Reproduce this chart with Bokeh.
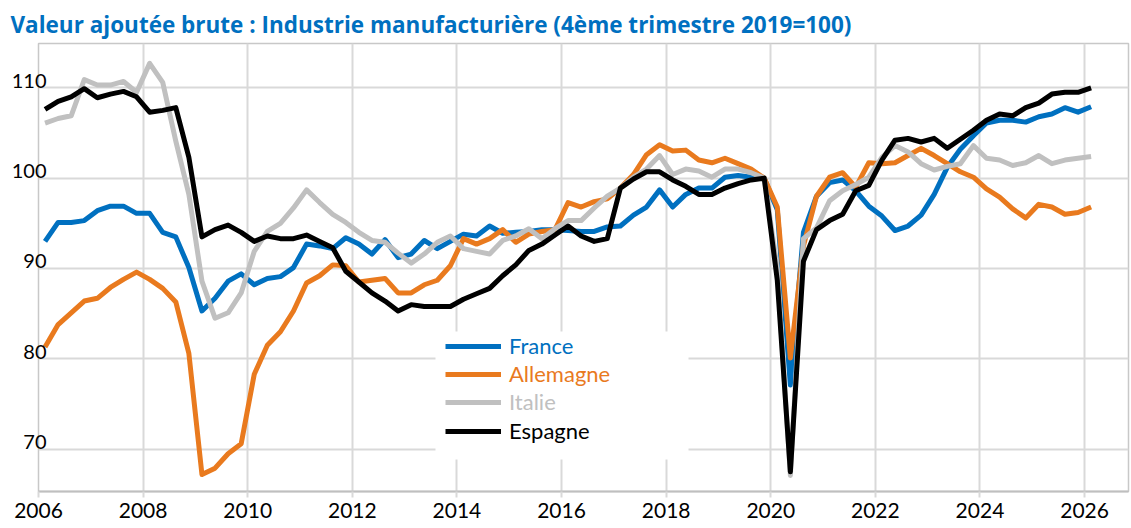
import numpy as np
from bokeh.plotting import figure
from bokeh.models import Range1d, FixedTicker, Legend, LegendItem, BoxAnnotation, LinearAxis
from bokeh.embed import file_html
from bokeh.resources import INLINE

# ---- data (quarterly, 2006T1 .. 2026T1, 4th quarter 2019 = 100) ----
first_year = 2006
france = [93.0, 95.1, 95.1, 95.3, 96.4, 96.9, 96.9, 96.1, 96.1, 94.0, 93.5, 90.1,
          85.3, 86.7, 88.6, 89.4, 88.2, 88.9, 89.1, 90.1, 92.7, 92.5, 92.2, 93.4,
          92.7, 91.6, 93.2, 91.2, 91.6, 93.1, 92.2, 93.0, 93.8, 93.6, 94.7, 93.9,
          94.0, 94.1, 94.3, 94.3, 94.2, 94.1, 94.1, 94.6, 94.7, 95.9, 96.8, 98.7,
          96.8, 98.2, 98.9, 98.9, 100.1, 100.3, 100.1, 100.0, 96.5, 77.1, 94.0, 98.0,
          99.5, 99.8, 98.6, 96.9, 95.8, 94.2, 94.7, 95.9, 98.2, 101.2, 103.2, 104.7,
          106.1, 106.4, 106.4, 106.2, 106.8, 107.1, 107.8, 107.3, 107.9]
allemagne = [81.3, 83.8, 85.1, 86.4, 86.7, 87.9, 88.8, 89.6, 88.8, 87.8, 86.3, 80.6,
             67.2, 67.9, 69.5, 70.6, 78.3, 81.5, 83.0, 85.3, 88.4, 89.2, 90.4, 90.3,
             88.5, 88.7, 88.9, 87.3, 87.3, 88.2, 88.7, 90.3, 93.3, 92.7, 93.3, 94.3,
             92.9, 93.8, 94.1, 94.3, 97.3, 96.8, 97.4, 97.7, 98.9, 100.4, 102.6, 103.7,
             103.0, 103.1, 102.0, 101.7, 102.2, 101.6, 101.0, 100.0, 96.8, 80.1, 92.5, 98.0,
             100.1, 100.6, 99.0, 101.7, 101.6, 101.7, 102.5, 103.3, 102.5, 101.6, 100.7, 100.1,
             98.8, 97.9, 96.6, 95.6, 97.1, 96.8, 96.0, 96.2, 96.8]
italie = [106.1, 106.6, 106.9, 110.9, 110.3, 110.3, 110.7, 109.5, 112.7, 110.6, 104.1, 98.2,
          88.6, 84.5, 85.1, 87.3, 91.9, 94.1, 95.0, 96.7, 98.7, 97.3, 96.0, 95.1,
          94.0, 93.1, 92.9, 91.7, 90.6, 91.6, 92.9, 93.6, 92.2, 91.9, 91.6, 93.1,
          93.6, 94.4, 93.3, 94.4, 95.3, 95.3, 96.7, 98.0, 98.9, 100.1, 101.0, 102.5,
          100.4, 101.0, 100.8, 100.1, 101.0, 101.0, 100.6, 100.0, 90.0, 67.1, 93.3, 94.5,
          97.5, 98.6, 99.3, 100.1, 102.3, 103.6, 102.9, 101.6, 100.9, 101.3, 101.6, 103.6,
          102.2, 102.0, 101.4, 101.7, 102.5, 101.6, 102.0, 102.2, 102.4]
espagne = [107.6, 108.5, 109.0, 109.9, 108.9, 109.3, 109.6, 109.0, 107.3, 107.5, 107.8, 102.3,
           93.5, 94.3, 94.8, 94.0, 93.0, 93.6, 93.3, 93.3, 93.7, 93.0, 92.3, 89.7,
           88.5, 87.3, 86.4, 85.3, 86.0, 85.8, 85.8, 85.8, 86.6, 87.2, 87.8, 89.2,
           90.4, 92.0, 92.7, 93.7, 94.7, 93.6, 93.0, 93.3, 98.9, 99.9, 100.7, 100.7,
           99.8, 99.1, 98.2, 98.2, 98.9, 99.4, 99.8, 100.0, 88.7, 67.5, 90.8, 94.3,
           95.3, 96.0, 98.6, 99.2, 102.0, 104.2, 104.4, 104.0, 104.4, 103.3, 104.3, 105.3,
           106.4, 107.1, 106.9, 107.8, 108.3, 109.3, 109.5, 109.5, 110.0]

series_names = ["France", "Allemagne", "Italie", "Espagne"]
year_ticks = [2006, 2008, 2010, 2012, 2014, 2016, 2018, 2020, 2022, 2024, 2026]
y_ticks = [70, 80, 90, 100, 110]
title_text = "Valeur ajoutée brute : Industrie manufacturière (4ème trimestre 2019=100)"

# quarter i plotted at the middle of the quarter
x = [first_year + i // 4 + (i % 4) / 4 + 0.125 for i in range(len(france))]

# ---- styles ----
colors = ["#0070C0", "#E97A1E", "#C0C0C0", "#000000"]
FONT = "Lato"
GRID = "#D9D9D9"
Y0, Y1 = 65.32, 114.9
LABEL_SHIFT = 0.8   # y labels sit just above their gridline

p = figure(width=1130, height=527, output_backend="svg", toolbar_location=None,
           x_range=Range1d(2006, 2026.84), y_range=Range1d(Y0, Y1),
           min_border_left=38, min_border_right=2, min_border_top=43, min_border_bottom=36)

p.title.text = title_text
p.title.text_font = "Open Sans"
p.title.text_font_style = "bold"
p.title.text_font_size = "22.5px"
p.title.text_color = "#0070C0"
p.title.align = "left"
p.title.offset = -28
p.title.standoff = 7

p.background_fill_color = "white"
p.border_fill_color = "white"
p.outline_line_color = "#C8C8C8"
p.outline_line_width = 1.5

p.yaxis.visible = False
p.xaxis.ticker = FixedTicker(ticks=year_ticks)
p.xaxis.axis_line_color = "#BFBFBF"
p.xaxis.axis_line_width = 2
p.xaxis.major_tick_in = 0
p.xaxis.major_tick_out = 6
p.xaxis.major_tick_line_color = GRID
p.xaxis.major_tick_line_width = 2
p.xaxis.minor_tick_line_color = None
p.xaxis.major_label_text_font = FONT
p.xaxis.major_label_text_font_size = "21px"
p.xaxis.major_label_text_color = "#000000"
p.xaxis.major_label_standoff = 5

p.xgrid.ticker = FixedTicker(ticks=year_ticks)
p.ygrid.ticker = FixedTicker(ticks=y_ticks)
p.xgrid.grid_line_color = GRID
p.ygrid.grid_line_color = GRID
p.xgrid.grid_line_width = 2
p.ygrid.grid_line_width = 2

# label-only axis, shifted so the labels sit on top of their gridlines
p.extra_y_ranges = {"labels": Range1d(Y0 - LABEL_SHIFT, Y1 - LABEL_SHIFT)}
lab_axis = LinearAxis(y_range_name="labels", ticker=FixedTicker(ticks=y_ticks),
                      axis_line_color=None,
                      major_tick_line_color=None, minor_tick_line_color=None,
                      major_tick_in=0, major_tick_out=0, major_label_standoff=-8,
                      major_label_text_font=FONT, major_label_text_font_size="20px",
                      major_label_text_color="#000000")
p.add_layout(lab_axis, "left")

renderers = []
for vals, c in zip([france, allemagne, italie, espagne], colors):
    r = p.line(x, vals, line_color=c, line_width=5, line_join="round")
    renderers.append(r)

# white box behind legend
p.add_layout(BoxAnnotation(left=397, right=650, bottom=32, top=160,
                           left_units="screen", right_units="screen",
                           bottom_units="screen", top_units="screen",
                           fill_color="white", fill_alpha=1.0, line_color=None))

legend_bottoms = [132, 104, 76, 47]
for r, name, c, b in zip(renderers, series_names, colors, legend_bottoms):
    lg = Legend(items=[LegendItem(label=name, renderers=[r])], location=(407, b),
                padding=0, margin=0, border_line_color=None, background_fill_alpha=0,
                glyph_width=56, glyph_height=26, label_height=26, label_standoff=8,
                label_text_font=FONT, label_text_font_size="22px", label_text_color=c)
    p.add_layout(lg)

open("out.html", "w").write(file_html(p, INLINE))
